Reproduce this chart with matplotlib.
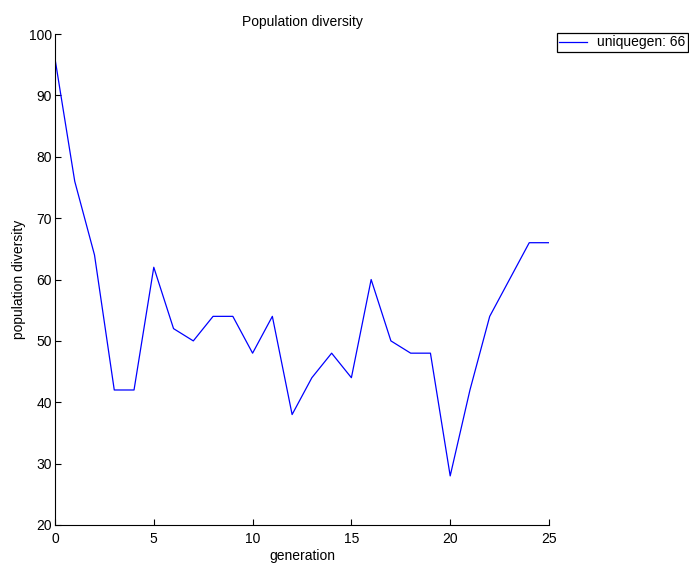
import matplotlib
matplotlib.use("Agg")
import matplotlib.pyplot as plt

plt.rcParams['font.family'] = ['Liberation Sans', 'DejaVu Sans']

generation = list(range(26))
diversity = [96, 76, 64, 42, 42, 62, 52, 50, 54, 54, 48, 54, 38, 44, 48, 44,
             60, 50, 48, 48, 28, 42, 54, 60, 66, 66]
legend_label = "uniquegen: 66"

fig = plt.figure(figsize=(6.89, 5.63), dpi=100)
ax = fig.add_axes([0.0798, 0.0675, 0.717, 0.872])

line, = ax.plot(generation, diversity, color='#0000ff', lw=0.9)

ax.set_xlim(0, 25)
ax.set_ylim(20, 100)
ax.set_xticks([0, 5, 10, 15, 20, 25])
ax.set_yticks(range(20, 101, 10))
ax.spines['top'].set_visible(False)
ax.spines['right'].set_visible(False)
ax.tick_params(direction='in', length=4, width=0.8, labelsize=10)
ax.tick_params(axis='x', pad=5)
ax.tick_params(axis='y', pad=2)

ax.set_title('Population diversity', fontsize=10, pad=6)
ax.set_xlabel('generation', fontsize=10, labelpad=2)
ax.set_ylabel('population diversity', fontsize=10, labelpad=2)

leg = fig.legend([line], [legend_label], loc='upper right',
                 bbox_to_anchor=(0.9985, 0.942), fontsize=10, fancybox=False,
                 edgecolor='black', framealpha=1, handlelength=2.0,
                 borderpad=0.2, handletextpad=0.7, borderaxespad=0)
leg.get_frame().set_linewidth(0.9)

fig.savefig('out.png', dpi=100)
